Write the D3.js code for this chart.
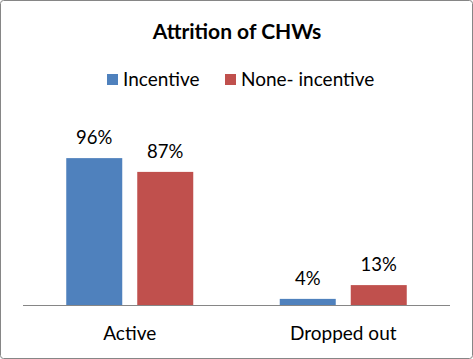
<!DOCTYPE html>
<html>
<head>
<meta charset="utf-8">
<script src="https://cdn.jsdelivr.net/npm/d3@7"></script>
<style>
  body { margin: 0; background: #fff; }
  text { font-family: Lato, "Open Sans", sans-serif; fill: #000; }
</style>
</head>
<body>
<div id="chart"></div>
<script>
// chart data
const categories = ["Active", "Dropped out"];
const seriesNames = ["Incentive", "None- incentive"];
const incentive = [96, 4];
const noneIncentive = [87, 13];
const colors = ["#4F81BD", "#C0504D"];

const W = 473, H = 359;
const svg = d3.select("#chart").append("svg")
    .attr("width", W)
    .attr("height", H);

// outer border
svg.append("rect")
    .attr("x", 0.5).attr("y", 0.5)
    .attr("width", W - 1).attr("height", H - 1)
    .attr("rx", 3)
    .attr("fill", "#fff")
    .attr("stroke", "#868686");

// plot area
const left = 23, right = 450, baseY = 305, topY = 152;

const x = d3.scaleBand()
    .domain(categories)
    .range([left, right])
    .padding(0);

const inner = d3.scaleBand()
    .domain(seriesNames)
    .range([43.25, x.bandwidth() - 43.25])
    .paddingInner(15 / 71)
    .paddingOuter(0);

const y = d3.scaleLinear()
    .domain([0, 100])
    .range([baseY, topY]);

const rows = categories.map((c, i) => ({
    category: c,
    values: [
        { series: seriesNames[0], value: incentive[i], color: colors[0] },
        { series: seriesNames[1], value: noneIncentive[i], color: colors[1] }
    ]
}));

const groups = svg.selectAll(".grp")
    .data(rows)
    .enter().append("g")
    .attr("transform", d => `translate(${x(d.category)},0)`);

groups.selectAll("rect")
    .data(d => d.values)
    .enter().append("rect")
    .attr("x", d => inner(d.series))
    .attr("y", d => y(d.value))
    .attr("width", inner.bandwidth())
    .attr("height", d => baseY - y(d.value))
    .attr("fill", d => d.color);

groups.selectAll(".lbl")
    .data(d => d.values)
    .enter().append("text")
    .attr("x", d => inner(d.series) + inner.bandwidth() / 2)
    .attr("y", d => y(d.value) - 14)
    .attr("text-anchor", "middle")
    .style("font-size", "18.5px")
    .text(d => d.value + "%");

// category axis
svg.append("line")
    .attr("x1", left).attr("x2", right)
    .attr("y1", baseY + 0.5).attr("y2", baseY + 0.5)
    .attr("stroke", "#868686");

svg.selectAll(".cat")
    .data(categories)
    .enter().append("text")
    .attr("x", d => x(d) + x.bandwidth() / 2)
    .attr("y", 340)
    .attr("text-anchor", "middle")
    .style("font-size", "19px")
    .text(d => d);

// title
svg.append("text")
    .attr("x", 237)
    .attr("y", 39)
    .attr("text-anchor", "middle")
    .style("font-size", "21px")
    .style("font-weight", "bold")
    .text("Attrition of CHWs");

// legend
const legendX = [107, 225];
const legend = svg.selectAll(".leg")
    .data(seriesNames)
    .enter().append("g")
    .attr("transform", (d, i) => `translate(${legendX[i]},74)`);
legend.append("rect")
    .attr("width", 11).attr("height", 11)
    .attr("fill", (d, i) => colors[i]);
legend.append("text")
    .attr("x", 16)
    .attr("y", 12)
    .style("font-size", "19px")
    .text(d => d);
</script>
</body>
</html>
